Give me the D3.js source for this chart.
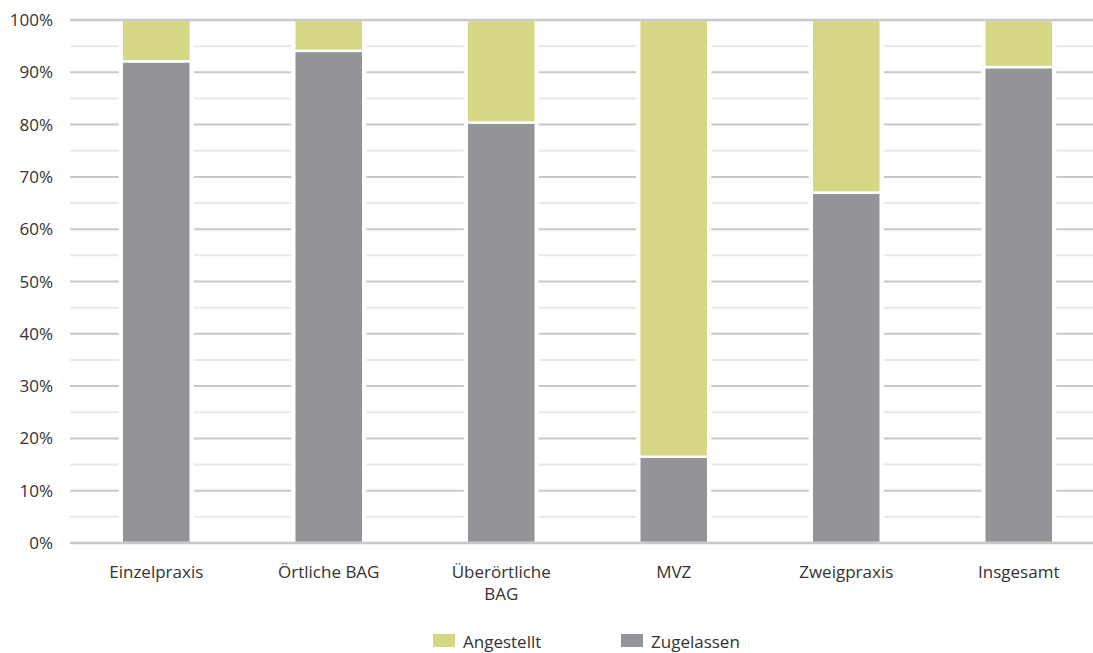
<!DOCTYPE html>
<html>
<head>
<meta charset="utf-8">
<script src="https://cdn.jsdelivr.net/npm/d3@7"></script>
<style>
  html, body { margin: 0; padding: 0; background: #fff; }
  svg text { font-family: "Open Sans", "Noto Sans", sans-serif; fill: #333; }
</style>
</head>
<body>
<svg id="chart" width="1093" height="653"></svg>
<script>
// Share of physicians by practice type (percent)
const categories = ["Einzelpraxis", "Örtliche BAG", "Überörtliche BAG", "MVZ", "Zweigpraxis", "Insgesamt"];
const categoryLines = [["Einzelpraxis"], ["Örtliche BAG"], ["Überörtliche", "BAG"], ["MVZ"], ["Zweigpraxis"], ["Insgesamt"]];
const zugelassen = [92.1, 94.1, 80.4, 16.5, 67.0, 91.0];
const angestellt = [7.9, 5.9, 19.6, 83.5, 33.0, 9.0];
const seriesNames = ["Angestellt", "Zugelassen"];
const seriesColors = ["#d6d784", "#929497"];
const yTicks = [0, 10, 20, 30, 40, 50, 60, 70, 80, 90, 100];
const yMinorTicks = [5, 15, 25, 35, 45, 55, 65, 75, 85, 95];

const svg = d3.select("#chart");
const plotLeft = 70, plotRight = 1093, plotTop = 20, plotBottom = 543;

// bands run a little past the visible grid on the right
const x = d3.scaleBand().domain(categories).range([70, 1105]).paddingInner(0.6).paddingOuter(0.3);
const y = d3.scaleLinear().domain([0, 100]).range([plotBottom, plotTop]);

// minor gridlines
svg.append("g").selectAll("line").data(yMinorTicks).join("line")
  .attr("x1", plotLeft).attr("x2", plotRight)
  .attr("y1", d => y(d)).attr("y2", d => y(d))
  .attr("stroke", "#e8e8e8").attr("stroke-width", 2);

// major gridlines (inner)
svg.append("g").selectAll("line").data(yTicks.filter(d => d > 0 && d < 100)).join("line")
  .attr("x1", plotLeft).attr("x2", plotRight)
  .attr("y1", d => y(d)).attr("y2", d => y(d))
  .attr("stroke", "#c8c8c8").attr("stroke-width", 2);

// white gap behind each bar column
svg.append("g").selectAll("rect").data(categories).join("rect")
  .attr("x", d => x(d) - 3).attr("width", x.bandwidth() + 6)
  .attr("y", y(100)).attr("height", y(0) - y(100))
  .attr("fill", "#fff");

// stacked bars
const stackData = categories.map((c, i) => ({ cat: c, Zugelassen: zugelassen[i], Angestellt: angestellt[i] }));
const stack = d3.stack().keys(["Zugelassen", "Angestellt"])(stackData);
const color = d3.scaleOrdinal().domain(seriesNames).range(seriesColors);

svg.append("g").selectAll("g").data(stack).join("g")
  .attr("fill", s => color(s.key))
  .selectAll("rect").data(s => s).join("rect")
  .attr("x", d => x(d.data.cat))
  .attr("width", x.bandwidth())
  .attr("y", d => y(d[1]))
  .attr("height", d => y(d[0]) - y(d[1]))
  .attr("stroke", "#fff").attr("stroke-width", 2.5);

// 0% and 100% lines drawn on top
svg.append("g").selectAll("line").data([0, 100]).join("line")
  .attr("x1", plotLeft).attr("x2", plotRight)
  .attr("y1", d => y(d)).attr("y2", d => y(d))
  .attr("stroke", "#c8c8c8").attr("stroke-width", 2.5);

// y axis labels
svg.append("g").selectAll("text").data(yTicks).join("text")
  .attr("x", 53).attr("y", d => y(d) + 6)
  .attr("text-anchor", "end")
  .style("font-size", "17px")
  .text(d => d + "%");

// category labels
const catG = svg.append("g").selectAll("text").data(categories).join("text")
  .attr("text-anchor", "middle")
  .attr("x", d => x(d) + x.bandwidth() / 2)
  .attr("y", 578)
  .style("font-size", "17px");
catG.selectAll("tspan").data((d, i) => categoryLines[i]).join("tspan")
  .attr("x", function() { return d3.select(this.parentNode).attr("x"); })
  .attr("dy", (d, j) => j === 0 ? 0 : 22)
  .text(d => d);

// legend
const legendX = [433, 621];
const legend = svg.append("g").selectAll("g").data(seriesNames).join("g")
  .attr("transform", (d, i) => `translate(${legendX[i]},634)`);
legend.append("rect").attr("width", 22).attr("height", 13).attr("fill", d => color(d));
legend.append("text").attr("x", 30).attr("y", 13.5).style("font-size", "17px").text(d => d);
</script>
</body>
</html>
